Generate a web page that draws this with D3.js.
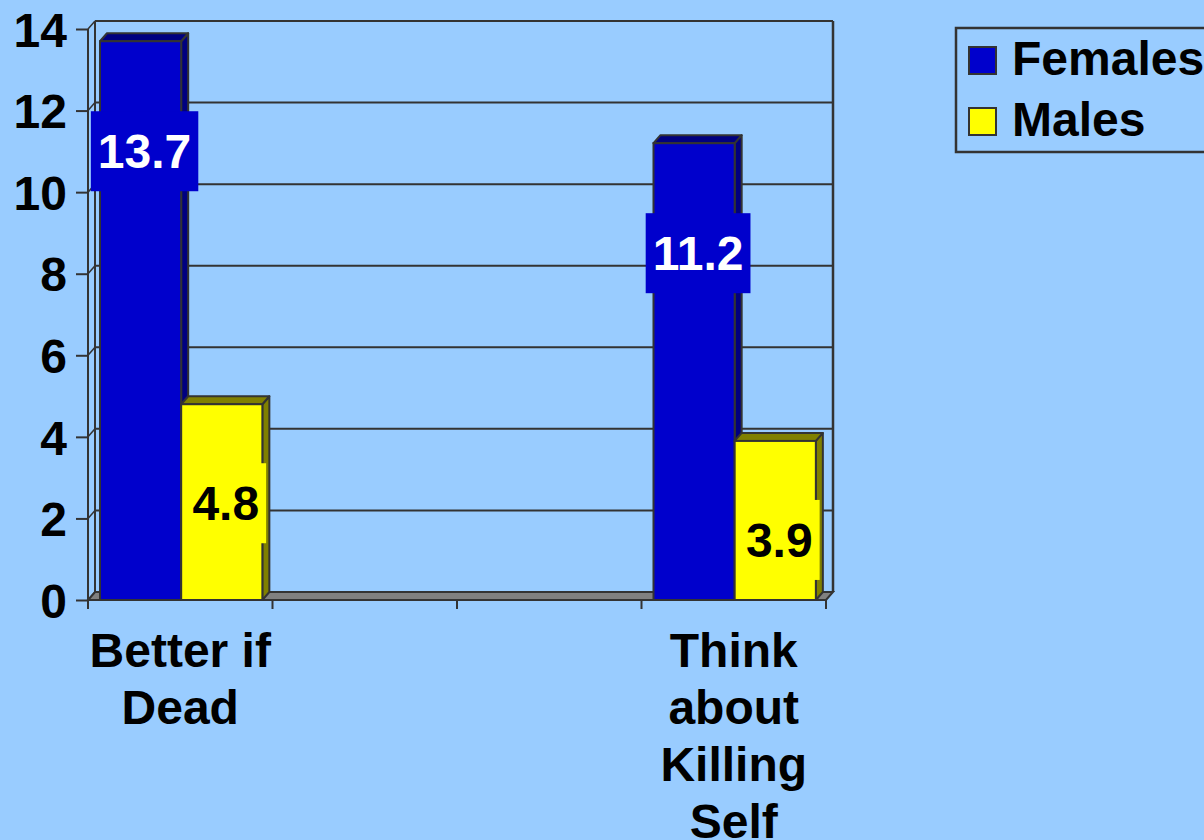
<!DOCTYPE html>
<html><head><meta charset="utf-8">
<script src="https://cdn.jsdelivr.net/npm/d3@7"></script>
<style>html,body{margin:0;padding:0;background:#99CCFF;overflow:hidden}</style>
</head><body>
<svg id="chart" width="1204" height="840"></svg>
<script>
const categories = ["Better if Dead", "", "", "Think about Killing Self"];
const seriesNames = ["Females", "Males"];
const females = [13.7, null, null, 11.2];
const males = [4.8, null, null, 3.9];
const yTicks = [0, 2, 4, 6, 8, 10, 12, 14];

const frontColors = ["#0000CC", "#FFFF00"];
const sideColors = ["#000080", "#808000"];
const labelColors = ["#FFFFFF", "#000000"];
const lineColor = "#333333";
const font = "'Liberation Sans', Arial, sans-serif";
const fs = 48;

const svg = d3.select("#chart");
svg.append("rect").attr("width", 1204).attr("height", 840).attr("fill", "#99CCFF");

const dx = 7, dy = 8;
const x = d3.scaleBand().domain(d3.range(categories.length)).range([88, 826]).padding(0);
const y = d3.scaleLinear().domain([0, 14]).range([600, 29]);
const x0 = 88, x1 = 826;

const g = svg.append("g");

// floor
g.append("path")
  .attr("d", `M${x0},${y(0)}L${x1},${y(0)}L${x1+dx},${y(0)-dy}L${x0+dx},${y(0)-dy}Z`)
  .attr("fill", "#808080").attr("stroke", lineColor).attr("stroke-width", 2);

// back wall gridlines
g.selectAll(".grid").data(yTicks.filter(d => d > 0)).join("line")
  .attr("x1", x0 + dx).attr("x2", x1 + dx)
  .attr("y1", d => y(d) - dy).attr("y2", d => y(d) - dy)
  .attr("stroke", lineColor).attr("stroke-width", 2);
// side wall diagonals
g.selectAll(".diag").data(yTicks).join("line")
  .attr("x1", x0).attr("x2", x0 + dx)
  .attr("y1", d => y(d)).attr("y2", d => y(d) - dy)
  .attr("stroke", lineColor).attr("stroke-width", 1.5);
// wall verticals
g.append("line").attr("x1", x0 + dx).attr("x2", x0 + dx).attr("y1", y(14) - dy).attr("y2", y(0) - dy)
  .attr("stroke", lineColor).attr("stroke-width", 2);
g.append("line").attr("x1", x1 + dx).attr("x2", x1 + dx).attr("y1", y(14) - dy).attr("y2", y(0) - dy)
  .attr("stroke", lineColor).attr("stroke-width", 2.5);
// front y axis
g.append("line").attr("x1", x0).attr("x2", x0).attr("y1", y(14)).attr("y2", y(0))
  .attr("stroke", lineColor).attr("stroke-width", 2);

// y axis ticks + labels
const yAxis = d3.axisLeft(y).tickValues(yTicks).tickSize(12).tickPadding(9).tickFormat(d3.format("d"));
const ya = svg.append("g").attr("transform", `translate(${x0},0)`).call(yAxis);
ya.select(".domain").remove();
ya.selectAll("line").attr("stroke", lineColor).attr("stroke-width", 2);
ya.selectAll("text").attr("font-family", font).attr("font-weight", "bold").attr("font-size", fs)
  .attr("fill", "#000").attr("dy", "0.36em");

// x axis ticks
const xTickPos = d3.range(categories.length + 1).map(i => x0 + i * x.bandwidth());
svg.selectAll(".xt").data(xTickPos).join("line")
  .attr("x1", d => d).attr("x2", d => d).attr("y1", y(0)).attr("y2", y(0) + 9)
  .attr("stroke", lineColor).attr("stroke-width", 2);

// bars
const bw = x.bandwidth() * 0.44;
const off = x.bandwidth() * 0.065;
const series = [females, males];
const barsG = svg.append("g");
categories.forEach((c, i) => {
  series.forEach((vals, s) => {
    const v = vals[i];
    if (v == null) return;
    const L = x(i) + off + s * bw, R = L + bw, T = y(v), B = y(0);
    barsG.append("path")
      .attr("d", `M${R},${T}L${R+dx},${T-dy}L${R+dx},${B-dy}L${R},${B}Z`)
      .attr("fill", sideColors[s]).attr("stroke", lineColor).attr("stroke-width", 2).attr("stroke-linejoin", "round");
    barsG.append("path")
      .attr("d", `M${L},${T}L${L+dx},${T-dy}L${R+dx},${T-dy}L${R},${T}Z`)
      .attr("fill", sideColors[s]).attr("stroke", lineColor).attr("stroke-width", 2).attr("stroke-linejoin", "round");
    barsG.append("rect").attr("x", L).attr("y", T).attr("width", bw).attr("height", B - T)
      .attr("fill", frontColors[s]).attr("stroke", lineColor).attr("stroke-width", 2);
  });
});

// value labels
const labelDrop = [110, 99];
categories.forEach((c, i) => {
  series.forEach((vals, s) => {
    const v = vals[i];
    if (v == null) return;
    const L = x(i) + off + s * bw;
    const cx = L + bw / 2 + 4;
    const cy = y(v) + labelDrop[s];
    const lg = svg.append("g");
    const rect = lg.append("rect");
    const t = lg.append("text").text(v.toFixed(1))
      .attr("x", cx).attr("y", cy + 17).attr("text-anchor", "middle")
      .attr("font-family", font).attr("font-weight", "bold").attr("font-size", fs)
      .attr("fill", labelColors[s]);
    const w = t.node().getComputedTextLength() + 14;
    rect.attr("x", cx - w / 2).attr("y", cy - 40).attr("width", w).attr("height", 80)
      .attr("fill", frontColors[s]);
  });
});

// category labels (wrapped)
const maxW = x.bandwidth();
categories.forEach((c, i) => {
  if (!c) return;
  const t = svg.append("text").attr("text-anchor", "middle")
    .attr("font-family", font).attr("font-weight", "bold").attr("font-size", fs).attr("fill", "#000");
  const cx = x(i) + x.bandwidth() / 2;
  const words = c.split(" ");
  let lines = [], cur = [];
  const probe = svg.append("text").attr("font-family", font).attr("font-weight", "bold").attr("font-size", fs);
  words.forEach(wd => {
    const test = cur.concat([wd]).join(" ");
    probe.text(test);
    if (probe.node().getComputedTextLength() > maxW && cur.length) { lines.push(cur.join(" ")); cur = [wd]; }
    else cur.push(wd);
  });
  if (cur.length) lines.push(cur.join(" "));
  probe.remove();
  lines.forEach((ln, k) => {
    t.append("tspan").attr("x", cx).attr("y", 667 + k * 57).text(ln);
  });
});

// legend
const leg = svg.append("g");
leg.append("rect").attr("x", 956).attr("y", 28).attr("width", 270).attr("height", 124)
  .attr("fill", "#99CCFF").attr("stroke", lineColor).attr("stroke-width", 2.5);
seriesNames.forEach((n, s) => {
  const yy = 47 + s * 61;
  leg.append("rect").attr("x", 969).attr("y", yy).attr("width", 27).attr("height", 27)
    .attr("fill", frontColors[s]).attr("stroke", lineColor).attr("stroke-width", 2);
  leg.append("text").attr("x", 1012).attr("y", yy + 28).text(n)
    .attr("font-family", font).attr("font-weight", "bold").attr("font-size", fs).attr("fill", "#000");
});
</script>
</body></html>
